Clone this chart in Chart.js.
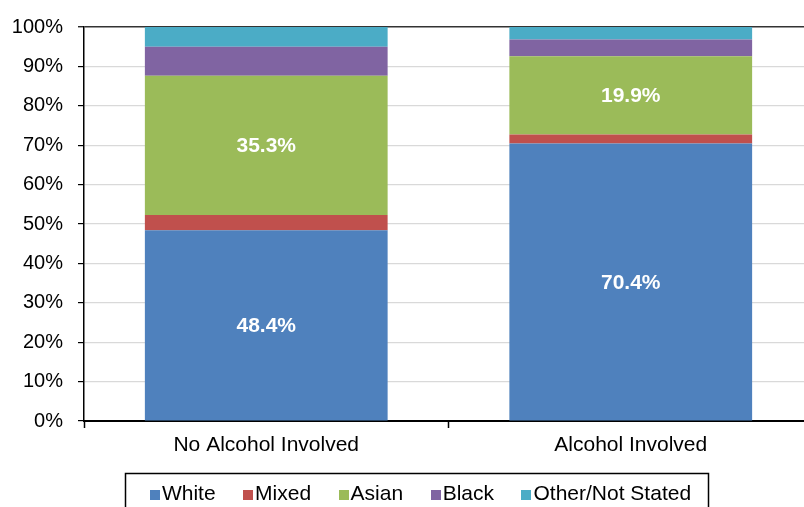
<!DOCTYPE html>
<html>
<head>
<meta charset="utf-8">
<script src="https://cdn.jsdelivr.net/npm/chart.js@4"></script>
<style>
  html, body { margin: 0; padding: 0; background: #fff; overflow: hidden; }
  #wrap { width: 832px; height: 520px; position: relative; }
</style>
</head>
<body>
<div id="wrap"><canvas id="chart"></canvas></div>
<script>
const categories = ['No Alcohol Involved', 'Alcohol Involved'];
const white = [48.4, 70.4];
const mixed = [3.9, 2.3];
const asian = [35.3, 19.9];
const black = [7.4, 4.2];
const other = [5.0, 3.2];
const yTicks = [0, 10, 20, 30, 40, 50, 60, 70, 80, 90, 100];

const FONT = 'Arial, "Liberation Sans", sans-serif';

// white bold % labels inside the bigger segments
const segmentLabels = {
    id: 'segmentLabels',
    afterDatasetsDraw(chart) {
        const ctx = chart.ctx;
        ctx.save();
        ctx.fillStyle = '#fff';
        ctx.font = 'bold 21px ' + FONT;
        ctx.textAlign = 'center';
        ctx.textBaseline = 'middle';
        chart.data.datasets.forEach((ds, i) => {
            if (!ds.showValue) return;
            chart.getDatasetMeta(i).data.forEach((bar, j) => {
                const v = ds.data[j];
                ctx.fillText(v.toFixed(1) + '%', bar.x, (bar.y + bar.base) / 2 + 1);
            });
        });
        ctx.restore();
    }
};

// boxed legend under the axis
const boxLegend = {
    id: 'boxLegend',
    afterDraw(chart) {
        const ctx = chart.ctx;
        const sq = 10, gapText = 2, gapItem = 27.5;
        const cy = 494;
        ctx.save();
        ctx.font = '21px ' + FONT;
        ctx.textBaseline = 'middle';
        const items = chart.data.datasets.map(ds => ({
            label: ds.label, color: ds.backgroundColor,
            w: sq + gapText + ctx.measureText(ds.label).width
        }));
        const total = items.reduce((s, it) => s + it.w, 0) + gapItem * (items.length - 1);
        const cx = 420.5;
        let x = cx - total / 2;
        ctx.strokeStyle = '#000';
        ctx.lineWidth = 1.5;
        ctx.strokeRect(Math.round(x - 25) + 0.5, 473.5, Math.round(total + 42), 40);
        items.forEach(it => {
            ctx.fillStyle = it.color;
            ctx.fillRect(Math.round(x), cy - 4, sq, sq);
            ctx.fillStyle = '#000';
            ctx.fillText(it.label, x + sq + gapText, cy);
            x += it.w + gapItem;
        });
        ctx.restore();
    }
};

const series = [
    { label: 'White', data: white, color: '#4F81BD', showValue: true },
    { label: 'Mixed', data: mixed, color: '#C0504D' },
    { label: 'Asian', data: asian, color: '#9BBB59', showValue: true },
    { label: 'Black', data: black, color: '#8064A2' },
    { label: 'Other/Not Stated', data: other, color: '#4BACC6' }
];

new Chart(document.getElementById('chart'), {
    type: 'bar',
    data: {
        labels: categories,
        datasets: series.map(s => ({
            label: s.label,
            data: s.data,
            backgroundColor: s.color,
            borderWidth: 0,
            showValue: !!s.showValue,
            categoryPercentage: 0.666,
            barPercentage: 1
        }))
    },
    options: {
        responsive: true,
        maintainAspectRatio: false,
        animation: false,
        layout: { padding: { top: 26, right: 19, bottom: 59, left: 0 } },
        plugins: {
            legend: { display: false },
            tooltip: { enabled: false }
        },
        scales: {
            x: {
                stacked: true,
                offset: true,
                afterFit: (scale) => { scale.height = 40; },
                border: { color: '#000', width: 2 },
                grid: {
                    offset: true,
                    drawOnChartArea: false,
                    tickColor: '#000',
                    tickLength: 7,
                    tickWidth: 1.5
                },
                ticks: {
                    color: '#000',
                    font: { family: FONT, size: 21 },
                    padding: 5
                }
            },
            y: {
                stacked: true,
                min: 0,
                max: 100,
                afterFit: (scale) => { scale.width = 84; },
                afterBuildTicks: (scale) => {
                    scale.ticks = yTicks.map(v => ({ value: v }));
                },
                border: { color: '#000', width: 1.5 },
                grid: {
                    color: (c) => c.tick && c.tick.value === 100 ? '#333' : '#d9d9d9',
                    lineWidth: (c) => c.tick && c.tick.value === 100 ? 1.5 : 1.2,
                    tickColor: '#000',
                    tickLength: 6,
                    tickWidth: 1.2
                },
                ticks: {
                    color: '#000',
                    font: { family: FONT, size: 20 },
                    padding: 15,
                    callback: (v) => v + '%'
                }
            }
        }
    },
    plugins: [segmentLabels, boxLegend]
});
</script>
</body>
</html>
